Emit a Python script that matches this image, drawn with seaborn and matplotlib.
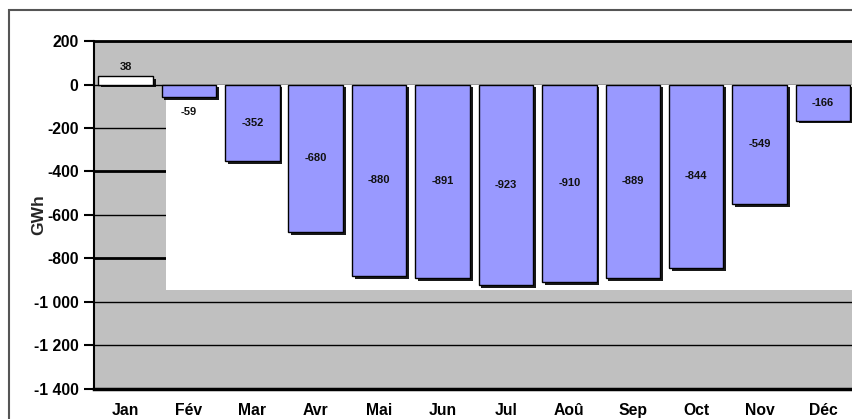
import matplotlib
matplotlib.use("Agg")
import matplotlib.pyplot as plt
import matplotlib.patheffects as pe
from matplotlib.patches import Rectangle
from matplotlib.ticker import FuncFormatter, MultipleLocator
import pandas as pd
import seaborn as sns

months = ["Jan", "Fév", "Mar", "Avr", "Mai", "Jun",
          "Jul", "Aoû", "Sep", "Oct", "Nov", "Déc"]
balance_gwh = [38, -59, -352, -680, -880, -891,
               -923, -910, -889, -844, -549, -166]
bar_colors = ["#ffffff"] + ["#9999ff"] * 11

sns.set_theme(style="white")
plt.rcParams["font.family"] = ["Liberation Sans", "DejaVu Sans"]

df = pd.DataFrame({"month": months, "gwh": balance_gwh})

fig = plt.figure(figsize=(8.53, 4.19), dpi=100)
ax = fig.add_axes([0.110, 0.072, 0.892, 0.830])
ax.set_facecolor("#c0c0c0")

sns.barplot(data=df, x="month", y="gwh", hue="month", palette=bar_colors,
            legend=False, width=0.86, edgecolor="black", linewidth=1.0,
            saturation=1, ax=ax, zorder=2)

for bar in ax.patches:
    bar.set_path_effects([pe.SimplePatchShadow(offset=(2, -2),
                                               shadow_rgbFace="black", alpha=0.9),
                          pe.Normal()])

# white panel behind the Feb-Dec bars
ax.add_patch(Rectangle((0.64, -945), 12, 945, facecolor="white",
                       edgecolor="none", zorder=0.8))

for i, v in enumerate(balance_gwh):
    if i == 0:
        y, va = v + 20, "bottom"
    elif i == 1:
        y, va = v - 45, "top"
    else:
        y, va = v / 2, "center"
    ax.text(i, y, f"{v}", ha="center", va=va, fontsize=8,
            fontweight="bold", color="#111111", zorder=3)

ax.set_xlim(-0.5, 11.5)
ax.set_ylim(-1400, 200)
ax.yaxis.set_major_locator(MultipleLocator(200))
ax.yaxis.set_major_formatter(
    FuncFormatter(lambda v, p: f"{v:,.0f}".replace(",", " ")))

ax.set_axisbelow(True)
ax.yaxis.grid(True, color="black", linewidth=1.0)
for v, line in zip(ax.get_yticks(), ax.get_ygridlines()):
    if v in (-400, -800):
        line.set_linewidth(2.0)

ax.tick_params(axis="y", which="major", left=True, length=7, width=1.5,
               color="black", labelsize=11.3, pad=4)
ax.tick_params(axis="x", bottom=False, labelsize=11.3, pad=4)
for lab in ax.get_xticklabels() + ax.get_yticklabels():
    lab.set_fontweight("bold")
    lab.set_color("black")

ax.spines["top"].set_linewidth(2.0)
ax.spines["left"].set_linewidth(1.5)
ax.spines["bottom"].set_linewidth(2.5)
ax.spines["right"].set_visible(False)
for s in ax.spines.values():
    s.set_color("black")

ax.set_xlabel("")
ax.set_ylabel("GWh", fontsize=12.5, fontweight="bold")
ax.yaxis.set_label_coords(-0.062, 0.5)

# outer chart frame
fig.patches.append(Rectangle((0.010, -0.05), 1.2, 1.027, transform=fig.transFigure,
                             facecolor="none", edgecolor="#555555", linewidth=1.5))

fig.savefig("out.png", dpi=100)
